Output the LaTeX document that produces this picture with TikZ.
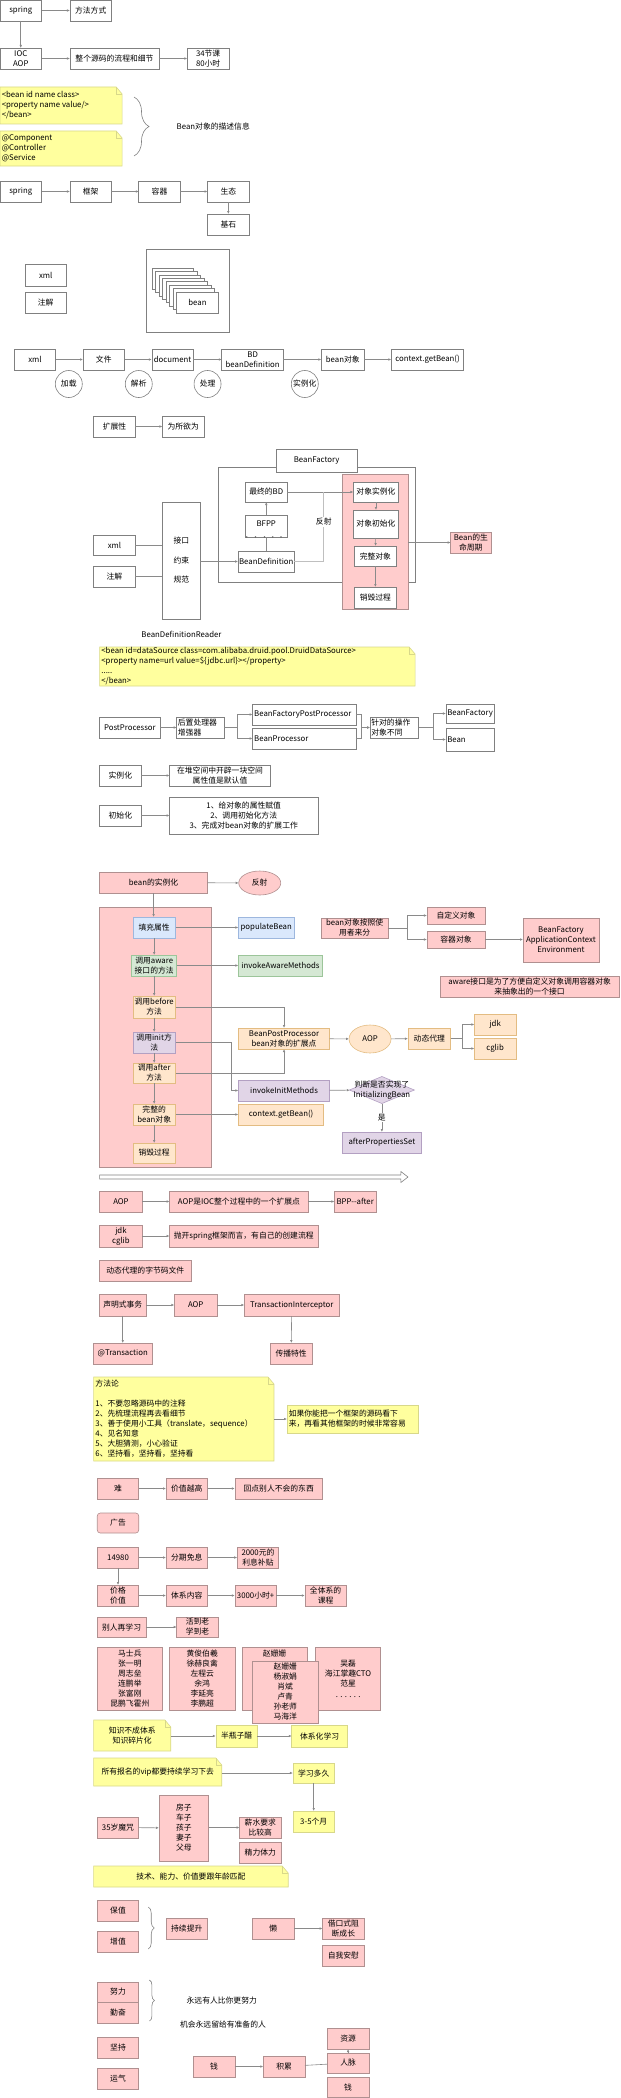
\documentclass[tikz,border=0pt]{standalone}
\usepackage{fontspec}
\setmainfont{Noto Sans CJK SC}
\usetikzlibrary{arrows.meta,shapes.geometric,decorations.pathreplacing}
\definecolor{pinkfill}{HTML}{FFCCCC}
\definecolor{pinkline}{HTML}{B09090}
\definecolor{notefill}{HTML}{FFFF9E}
\definecolor{noteline}{HTML}{D8D88A}
\definecolor{bluefill}{HTML}{DAE8FC}
\definecolor{blueline}{HTML}{9DB7DE}
\definecolor{greenfill}{HTML}{D5E8D4}
\definecolor{greenline}{HTML}{9CC59A}
\definecolor{orangefill}{HTML}{FFE6CC}
\definecolor{orangeline}{HTML}{E3BC82}
\definecolor{purplefill}{HTML}{E1D5E7}
\definecolor{purpleline}{HTML}{B3A0C2}
\definecolor{wirecol}{HTML}{8A8A8A}
\tikzset{
  box/.style={draw=black!50, fill=white, line width=0.6pt, inner sep=1pt, outer sep=0pt, align=center},
  pinkbox/.style={box, draw=pinkline, fill=pinkfill},
  yelbox/.style={box, draw=noteline, fill=notefill},
  bluebox/.style={box, draw=blueline, fill=bluefill},
  greenbox/.style={box, draw=greenline, fill=greenfill},
  orangebox/.style={box, draw=orangeline, fill=orangefill},
  purplebox/.style={box, draw=purpleline, fill=purplefill},
  stepcircle/.style={box, circle, minimum size=27pt, inner sep=0pt},
  flow/.style={draw=wirecol, line width=0.6pt, -{Latex[length=3pt,width=2.6pt]}},
  wire/.style={draw=wirecol, line width=0.6pt},
  notepaper/.style={draw=noteline, fill=notefill, line width=0.6pt},
  bracket/.style={draw=black!50, line width=0.6pt, decorate},
  plain/.style={inner sep=1pt, align=center}
}
% box from corner (x1,y1) to (x2,y2): style, x1, y1, x2, y2, name, text
\newcommand{\bx}[7]{%
  \pgfmathsetmacro{\boxwd}{(#4-#2)*1.186}\pgfmathsetmacro{\boxht}{#5-#3}%
  \node[#1, minimum width=\boxwd pt, minimum height=\boxht pt] (#6) at ({(#2+#4)/2},{(#3+#5)/2}) {#7};}
% note paper with folded corner
\newcommand{\notebg}[4]{%
  \filldraw[notepaper] (#1,#2) -- ({#3-5},#2) -- (#3,{#2+7}) -- (#3,#4) -- (#1,#4) -- cycle;
  \draw[notepaper, fill=none] ({#3-5},#2) -- ({#3-5},{#2+7}) -- (#3,{#2+7});}

\begin{document}
\begin{tikzpicture}[x=1.186pt, y=-1pt, font=\fontsize{7.8}{10}\selectfont]
\useasboundingbox (0,0) rectangle (522.8,2098);

% spring overview
\bx{box}{0}{0}{35}{21}{spring}{spring}
\bx{box}{59}{0}{94}{21}{mode}{方法方式}
\bx{box}{0}{48}{35}{69}{iocaop}{IOC\\AOP}
\bx{box}{59}{48}{134}{69}{detail}{整个源码的流程和细节}
\bx{box}{158}{48}{193}{69}{lessons}{34节课\\80小时}
\draw[flow] (spring) -- (mode);
\draw[flow] (spring) -- (iocaop);
\draw[flow] (iocaop) -- (detail);
\draw[flow] (detail) -- (lessons);

% bean description
\notebg{0}{87}{103}{124}
\node[plain, align=left, anchor=west] (xmldesc) at (0.5,105.5) {<bean id name class>\\<property name value/>\\</bean>};
\notebg{0}{131}{103}{166}
\node[plain, align=left, anchor=west] (annodesc) at (0.5,148.5) {@Component\\@Controller\\@Service};
\draw[bracket, decoration={brace, amplitude=15pt}] (113,97) -- (113,156);
\node[plain, anchor=west] (beandesc) at (148,127) {Bean对象的描述信息};

\bx{box}{0}{181}{35}{202}{springb}{spring}
\bx{box}{59}{181}{94}{202}{frame}{框架}
\bx{box}{117}{181}{152}{202}{holder}{容器}
\bx{box}{175}{181}{210}{202}{eco}{生态}
\bx{box}{175}{214}{210}{235}{base}{基石}
\draw[flow] (springb) -- (frame);
\draw[flow] (frame) -- (holder);
\draw[flow] (holder) -- (eco);
\draw[flow] (eco) -- (base);

% bean pool
\bx{box}{123}{249}{193}{332}{pool}{}
\foreach \i in {0,...,6}
  \node[box, minimum width=41.5pt, minimum height=21pt] (card\i) at ({145.5+\i*3},{278.5+\i*3.43}) {};
\node[box, minimum width=41.5pt, minimum height=21pt] (card7) at (166.5,302.5) {bean};
\bx{box}{21}{264}{56}{286}{xmla}{xml}
\bx{box}{21}{292}{56}{313}{annoa}{注解}

% loading chain
\bx{box}{12}{349}{47}{370}{xmlb}{xml}
\bx{box}{70}{349}{105}{370}{file}{文件}
\bx{box}{128}{349}{163}{370}{doc}{document}
\bx{box}{187}{349}{239}{370}{bd}{BD\\beanDefinition}
\bx{box}{271}{349}{307}{370}{beanobj}{bean对象}
\bx{box}{330}{349}{391}{370}{getbean}{context.getBean()}
\draw[flow] (xmlb) -- (file);
\draw[flow] (file) -- (doc);
\draw[flow] (doc) -- (bd);
\draw[flow] (bd) -- (beanobj);
\draw[flow] (beanobj) -- (getbean);
\node[stepcircle] (load) at (58,384) {加载};
\node[stepcircle] (parse) at (117,384) {解析};
\node[stepcircle] (handle) at (175,384) {处理};
\node[stepcircle] (inst) at (257,384) {实例化};

\bx{box}{79}{416}{114}{437}{extend}{扩展性}
\bx{box}{137}{416}{172}{437}{anyway}{为所欲为}
\draw[flow] (extend) -- (anyway);

% BeanFactory
\bx{box}{184}{467}{350}{582}{factory}{}
\bx{box}{233}{449}{301}{472}{factorytitle}{BeanFactory}
\bx{pinkbox}{289}{474}{344}{609}{lifecycle}{}
\bx{box}{207}{482}{242}{502}{finalbd}{最终的BD}
\bx{box}{207}{515}{242}{537}{bfpp}{\raisebox{4pt}{BFPP}}
\foreach \k in {208,215.5,223,230,237}
  \fill[black!60] (\k,537) circle (0.9pt);
\bx{box}{201}{551}{248}{572}{beandef}{BeanDefinition}
\node[plain, fill=white] (reflect) at (273,522) {反射};
\bx{box}{298}{482}{336}{502}{objnew}{对象实例化}
\bx{box}{298}{510}{336}{538}{objinit}{对象初始化}
\bx{box}{299}{546}{334}{566}{objfull}{完整对象}
\bx{box}{299}{587}{334}{608}{objdead}{销毁过程}
\bx{pinkbox}{380}{532}{414}{553}{beanlife}{Bean的生\\命周期}
\bx{box}{79}{535}{114}{555}{xmlc}{xml}
\bx{box}{79}{566}{114}{587}{annoc}{注解}
\bx{box}{137}{502}{169}{619}{reader}{接口\\[9.5pt]约束\\[9.5pt]规范}
\node[plain] (readername) at (153,634) {BeanDefinitionReader};
\draw[wire] (xmlc) -- (reader.west |- xmlc);
\draw[wire] (annoc) -- (reader.west |- annoc);
\draw[flow] (reader.east |- beandef) -- (beandef);
\draw[wire] (beandef) -- (bfpp);
\draw[flow] (bfpp) -- (finalbd);
\draw[flow] (finalbd) -- (objnew);
\draw[black!25, line width=0.6pt] (beandef.east) -| (reflect.south);
\draw[black!25, line width=0.6pt] (reflect.north) -- (reflect |- finalbd);
\draw[flow] (objnew) -- (objinit);
\draw[flow] (objinit) -- (objfull);
\draw[flow] (objfull) -- (objdead);
\draw[flow] (lifecycle.east |- beanlife) -- (beanlife);

\notebg{84}{647}{350}{686}
\node[plain, align=left, anchor=west] (dsnote) at (84.5,666.5) {<bean id=dataSource class=com.alibaba.druid.pool.DruidDataSource>\\<property name=url value=\$\{jdbc.url\}></property>\\.....\\</bean>};

% post processors
\bx{box}{84}{717}{135}{738}{postp}{PostProcessor}
\bx{box, text width=45pt, align=left}{149}{717}{189}{738}{enhancer}{后置处理器\\增强器}
\bx{box, text width=100pt, align=left}{213}{704}{300}{725}{bfpptwo}{BeanFactoryPostProcessor}
\bx{box, text width=100pt, align=left}{213}{728}{300}{749}{beanproc}{BeanProcessor}
\bx{box, text width=46pt, align=left}{312}{717}{353}{738}{target}{针对的操作\\对象不同}
\bx{box, text width=46pt, align=left}{376}{704}{417}{723}{tfactory}{BeanFactory}
\bx{box, text width=46pt, align=left}{376}{728}{417}{751}{tbean}{Bean}
\draw[flow] (postp) -- (enhancer);
\draw[flow] (enhancer.east) -- +(11,0) |- (bfpptwo.west);
\draw[flow] (enhancer.east) -- +(11,0) |- (beanproc.west);
\draw[flow] (bfpptwo.east) -- +(5,0) |- (target.west);
\draw[flow] (beanproc.east) -- +(5,0) |- (target.west);
\draw[flow] (target.east) -- +(12,0) |- (tfactory.west);
\draw[flow] (target.east) -- +(12,0) |- (tbean.west);

\bx{box}{84}{765}{119}{786}{instb}{实例化}
\bx{box}{143}{765}{228}{786}{heap}{在堆空间中开辟一块空间\\属性值是默认值}
\bx{box}{84}{805}{119}{826}{initb}{初始化}
\bx{box}{143}{797}{268}{834}{initsteps}{1、给对象的属性赋值\\2、调用初始化方法\\3、完成对bean对象的扩展工作}
\draw[flow] (instb) -- (heap);
\draw[flow] (initb) -- (initsteps.west |- initb);

% bean lifecycle
\bx{pinkbox}{84}{872}{175}{893}{beaninst}{bean的实例化}
\node[pinkbox, ellipse, minimum width=42pt, minimum height=24pt, inner sep=0pt] (reflect2) at (219,883) {反射};
\bx{pinkbox}{84}{907}{178}{1167}{lifebox}{}
\bx{bluebox}{112}{917}{148}{938}{fill}{填充属性}
\bx{bluebox}{201}{917}{248}{938}{populate}{populateBean}
\bx{greenbox}{111}{955}{149}{976}{aware}{调用aware\\接口的方法}
\bx{greenbox}{201}{955}{272}{976}{invaware}{invokeAwareMethods}
\bx{orangebox}{112}{996}{148}{1018}{before}{调用before\\方法}
\bx{purplebox}{112}{1032}{148}{1053}{init}{调用init方\\法}
\bx{orangebox}{112}{1063}{148}{1083}{after}{调用after\\方法}
\bx{orangebox}{112}{1104}{148}{1125}{fullobj}{完整的\\bean对象}
\bx{orangebox}{112}{1143}{148}{1163}{destroy}{销毁过程}
\bx{orangebox}{201}{1028}{278}{1049}{bpp}{BeanPostProcessor\\bean对象的扩展点}
\node[orangebox, ellipse, minimum width=42pt, minimum height=28pt, inner sep=0pt] (aop) at (312,1039) {AOP};
\bx{orangebox}{344}{1028}{380}{1049}{proxy}{动态代理}
\bx{orangebox}{400}{1014}{435}{1035}{jdk}{jdk}
\bx{orangebox}{400}{1038}{435}{1059}{cglib}{cglib}
\bx{pinkbox}{271}{918}{327}{938}{byuser}{bean对象按照使\\用者来分}
\bx{pinkbox}{360}{907}{409}{924}{custom}{自定义对象}
\bx{pinkbox}{360}{931}{409}{948}{container}{容器对象}
\bx{pinkbox}{441}{918}{505}{962}{ctxlist}{BeanFactory\\ApplicationContext\\Environment}
\bx{pinkbox}{371}{976}{522}{997}{awarenote}{aware接口是为了方便自定义对象调用容器对象\\来抽象出的一个接口}
\bx{purplebox}{201}{1080}{278}{1101}{invinit}{invokeInitMethods}
\node[purplebox, diamond, minimum width=65pt, minimum height=27pt, inner sep=0pt] (judge) at (322,1090) {};
\node[plain, inner sep=0pt] (judgetext) at (judge) {判断是否实现了\\InitializingBean};
\bx{orangebox}{201}{1104}{273}{1125}{getbeantwo}{context.getBean()}
\bx{purplebox}{289}{1132}{355}{1153}{afterprops}{afterPropertiesSet}
\draw[flow] (beaninst) -- (reflect2);
\draw[flow] (beaninst.south) -- (beaninst.south |- fill.north);
\draw[flow] (fill) -- (aware);
\draw[flow] (aware) -- (before);
\draw[flow] (before) -- (init);
\draw[flow] (init) -- (after);
\draw[flow] (after) -- (fullobj);
\draw[flow] (fullobj) -- (destroy);
\draw[flow] (fill) -- (populate);
\draw[flow] (aware) -- (invaware);
\draw[flow] (before.east) -| (bpp.north);
\draw[flow] (after.east) -| (bpp.south);
\draw[flow] (init.east) -- +(47,0) |- (invinit.west);
\draw[flow] (fullobj) -- (getbeantwo);
\draw[flow] (bpp) -- (aop);
\draw[flow] (aop) -- (proxy);
\draw[flow] (proxy.east) -- +(10,0) |- (jdk.west);
\draw[flow] (proxy.east) -- +(10,0) |- (cglib.west);
\draw[flow] (byuser.east) -- +(16,0) |- (custom.west);
\draw[flow] (byuser.east) -- +(16,0) |- (container.west);
\draw[flow] (container) -- (container -| ctxlist.west);
\draw[flow] (invinit) -- (judge);
\draw[flow] (judge) -- node[plain, fill=white] (yes) {是} (afterprops);

% big hollow arrow
\draw[draw=black!50, fill=white, line width=0.6pt] (84,1175) -- (338,1175) -- (338,1171.5) -- (344,1177) -- (338,1182.5) -- (338,1179) -- (84,1179) -- cycle;

% AOP
\bx{pinkbox}{84}{1191}{120}{1212}{aoptwo}{AOP}
\bx{pinkbox}{143}{1191}{260}{1212}{aopext}{AOP是IOC整个过程中的一个扩展点}
\bx{pinkbox}{282}{1191}{317}{1212}{bppafter}{BPP{-}{-}after}
\draw[flow] (aoptwo) -- (aopext);
\draw[flow] (aopext) -- (bppafter);
\bx{pinkbox}{84}{1225}{120}{1247}{jdkcglib}{jdk\\cglib}
\bx{pinkbox}{143}{1225}{268}{1247}{ownflow}{抛开spring框架而言，有自己的创建流程}
\draw[flow] (jdkcglib) -- (ownflow);
\bx{pinkbox}{84}{1260}{161}{1281}{bytecode}{动态代理的字节码文件}

% transactions
\bx{pinkbox}{84}{1294}{123}{1316}{tx}{声明式事务}
\bx{pinkbox}{147}{1294}{183}{1316}{aopthree}{AOP}
\bx{pinkbox}{206}{1294}{286}{1316}{txint}{TransactionInterceptor}
\bx{pinkbox}{79}{1343}{128}{1364}{txanno}{@Transaction}
\bx{pinkbox}{228}{1343}{263}{1364}{propag}{传播特性}
\draw[flow] (tx) -- (aopthree);
\draw[flow] (aopthree) -- (txint);
\draw[flow] (tx) -- (txanno);
\draw[flow] (txint) -- (propag);

% method
\notebg{79}{1377}{231}{1461}
\node[plain, align=left, anchor=west] (method) at (79.5,1419) {方法论\\[10pt]1、不要忽略源码中的注释\\2、先梳理流程再去看细节\\3、善于使用小工具（translate，sequence）\\4、见名知意\\5、大胆猜测，小心验证\\6、坚持看，坚持看，坚持看};
\bx{yelbox, text width=128pt, align=left}{242}{1405}{353}{1433}{easy}{如果你能把一个框架的源码看下\\来，再看其他框架的时候非常容易}
\draw[flow] (231,1419) -- (easy);

% value
\bx{pinkbox}{82}{1478}{117}{1499}{hard}{难}
\bx{pinkbox}{140}{1478}{175}{1499}{worth}{价值越高}
\bx{pinkbox}{198}{1478}{272}{1499}{rare}{回点别人不会的东西}
\draw[flow] (hard) -- (worth);
\draw[flow] (worth) -- (rare);
\bx{pinkbox, rounded corners=3pt}{82}{1513}{117}{1533}{advert}{广告}
\bx{pinkbox}{82}{1547}{117}{1568}{price}{14980}
\bx{pinkbox}{140}{1547}{175}{1568}{instal}{分期免息}
\bx{pinkbox}{200}{1547}{235}{1568}{subsidy}{2000元的\\利息补贴}
\bx{pinkbox}{82}{1585}{117}{1606}{pricevalue}{价格\\价值}
\bx{pinkbox}{140}{1585}{175}{1606}{content}{体系内容}
\bx{pinkbox}{198}{1585}{233}{1606}{thousands}{3000小时+}
\bx{pinkbox}{257}{1585}{292}{1606}{course}{全体系的\\课程}
\draw[flow] (price) -- (instal);
\draw[flow] (instal) -- (subsidy);
\draw[flow] (price) -- (pricevalue);
\draw[flow] (pricevalue) -- (content);
\draw[flow] (content) -- (thousands);
\draw[flow] (thousands) -- (course);
\bx{pinkbox}{82}{1617}{123}{1637}{relearn}{别人再学习}
\bx{pinkbox}{149}{1617}{184}{1637}{lifelong}{活到老\\学到老}
\draw[flow] (relearn) -- (lifelong);

% teachers
\bx{pinkbox}{82}{1647}{137}{1710}{teacherA}{马士兵\\张一明\\周志垒\\连鹏举\\张富刚\\昆鹏飞霍州}
\bx{pinkbox}{143}{1647}{198}{1710}{teacherB}{黄俊伯羲\\徐赫良禽\\左程云\\余鸿\\李延亮\\李鹏超}
\bx{pinkbox}{204}{1647}{259}{1710}{teacherC}{}
\node[plain] (teacherCtop) at (231.5,1654) {赵姗姗};
\bx{pinkbox}{266}{1647}{321}{1710}{teacherE}{吴磊\\海江掌趣CTO\\范星\\[1pt]. . . . . .}
\bx{pinkbox}{213}{1661}{268}{1723}{teacherD}{赵姗姗\\杨淑娟\\肖斌\\卢青\\孙老师\\马海洋}

% learning
\notebg{79}{1720}{144}{1751}
\node[plain] (fragment) at (111.5,1735.5) {知识不成体系\\知识碎片化};
\bx{yelbox}{182}{1725}{217}{1747}{halfway}{半瓶子醋}
\bx{yelbox}{246}{1725}{293}{1747}{system}{体系化学习}
\draw[flow] (144,1736) -- (halfway);
\draw[flow] (halfway) -- (system);
\notebg{79}{1758}{187}{1786}
\node[plain] (vip) at (133,1772.5) {所有报名的vip都要持续学习下去};
\bx{yelbox}{247}{1763}{282}{1783}{howlong}{学习多久}
\bx{yelbox}{247}{1811}{282}{1832}{months}{3-5个月}
\draw[flow] (187,1773) -- (howlong);
\draw[flow] (howlong) -- (months);

% age
\bx{pinkbox}{82}{1817}{117}{1838}{curse}{35岁魔咒}
\bx{pinkbox}{134}{1795}{176}{1861}{family}{房子\\车子\\孩子\\妻子\\父母}
\bx{pinkbox}{202}{1817}{237}{1838}{salary}{薪水要求\\比较高}
\bx{pinkbox}{202}{1842}{237}{1863}{energy}{精力体力}
\draw[flow] (curse) -- (family);
\draw[flow] (family.east |- salary) -- (salary);
\notebg{79}{1866}{243}{1887}
\node[plain] (match) at (161,1876.5) {技术、能力、价值要跟年龄匹配};

% keep growing
\bx{pinkbox}{82}{1900}{117}{1921}{keep}{保值}
\bx{pinkbox}{82}{1931}{117}{1952}{grow}{增值}
\draw[bracket, decoration={brace, amplitude=6pt}] (125,1907) -- (125,1949);
\bx{pinkbox}{140}{1918}{175}{1939}{improve}{持续提升}
\bx{pinkbox}{213}{1918}{248}{1939}{lazy}{懒}
\bx{pinkbox}{272}{1918}{307}{1939}{excuse}{借口式阻\\断成长}
\bx{pinkbox}{272}{1945}{307}{1966}{comfort}{自我安慰}
\draw[flow] (lazy) -- (excuse);

\bx{pinkbox}{82}{1982}{117}{2002}{effort}{努力}
\bx{pinkbox}{82}{2002}{117}{2023}{diligent}{勤奋}
\draw[bracket, decoration={brace, amplitude=5pt}] (126,1980) -- (126,2021);
\node[plain] (someone) at (187,2001) {永远有人比你更努力};
\node[plain] (chance) at (188,2025) {机会永远留给有准备的人};
\bx{pinkbox}{82}{2037}{117}{2058}{persist}{坚持}
\bx{pinkbox}{82}{2068}{117}{2089}{luck}{运气}
\bx{pinkbox}{163}{2056}{198}{2077}{money}{钱}
\bx{pinkbox}{222}{2056}{257}{2077}{accum}{积累}
\bx{pinkbox}{276}{2028}{311}{2049}{resource}{资源}
\bx{pinkbox}{276}{2053}{311}{2073}{network}{人脉}
\bx{pinkbox}{276}{2077}{311}{2097}{moneyb}{钱}
\draw[flow] (money) -- (accum);
\draw[wire] (accum) -- (network);
\draw[flow] (network) -- (resource);

\end{tikzpicture}
\end{document}
